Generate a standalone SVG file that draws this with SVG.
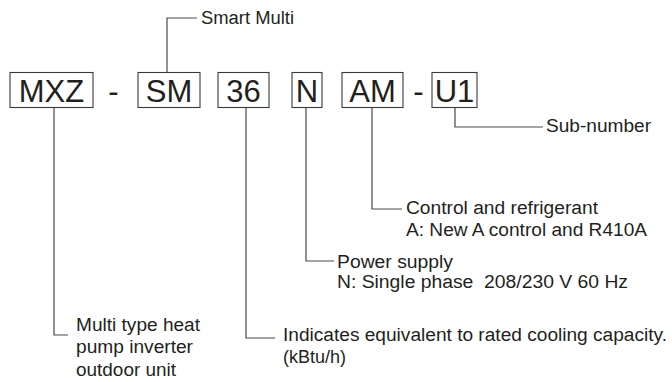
<svg xmlns="http://www.w3.org/2000/svg" width="672" height="382" viewBox="0 0 672 382">
<style>
.box{fill:#fff;stroke:#3a3a3a;stroke-width:1.1}
.code{font-family:"Liberation Sans",Arial,sans-serif;font-size:31px;fill:#231f20;text-anchor:middle}
.lbl{font-family:"Liberation Sans",Arial,sans-serif;font-size:18px;fill:#231f20}
.conn{fill:none;stroke:#4a4a4a;stroke-width:1.2}
</style>
<rect width="672" height="382" fill="#fff"/>
<g id="connectors">
<path class="conn" d="M167,72.5 V18 H197"/>
<path class="conn" d="M455,107.5 V127 H543"/>
<path class="conn" d="M372,107.5 V209 H402"/>
<path class="conn" d="M306,107.5 V261 H334"/>
<path class="conn" d="M246,107.5 V338 H275"/>
<path class="conn" d="M54,107.5 V335 H68"/>
</g>
<g id="node-mxz">
<rect class="box" x="10" y="72.5" width="83" height="35"/>
<text class="code" x="51.5" y="102">MXZ</text>
</g>
<text class="code" x="113.5" y="102">-</text>
<g id="node-sm">
<rect class="box" x="138" y="72.5" width="62" height="35"/>
<text class="code" x="169" y="102">SM</text>
</g>
<g id="node-36">
<rect class="box" x="218" y="72.5" width="51" height="35"/>
<text class="code" x="243.5" y="102">36</text>
</g>
<g id="node-n">
<rect class="box" x="292" y="72.5" width="30" height="35"/>
<text class="code" x="307" y="102">N</text>
</g>
<g id="node-am">
<rect class="box" x="342" y="72.5" width="61" height="35"/>
<text class="code" x="372.5" y="102">AM</text>
</g>
<text class="code" x="418.5" y="102">-</text>
<g id="node-u1">
<rect class="box" x="432" y="72.5" width="45" height="35"/>
<text class="code" x="454.5" y="102">U1</text>
</g>
<g id="label-smart">
<text class="lbl" x="201" y="24" textLength="93" lengthAdjust="spacingAndGlyphs">Smart Multi</text>
</g>
<g id="label-sub">
<text class="lbl" x="546" y="132" textLength="105" lengthAdjust="spacingAndGlyphs">Sub-number</text>
</g>
<g id="label-control">
<text class="lbl" x="406" y="214" textLength="192" lengthAdjust="spacingAndGlyphs">Control and refrigerant</text>
<text class="lbl" x="406" y="236" textLength="241" lengthAdjust="spacingAndGlyphs">A: New A control and R410A</text>
</g>
<g id="label-power">
<text class="lbl" x="337" y="268" textLength="116" lengthAdjust="spacingAndGlyphs">Power supply</text>
<text class="lbl" x="337" y="288" textLength="291" lengthAdjust="spacingAndGlyphs" xml:space="preserve">N: Single phase  208/230 V 60 Hz</text>
</g>
<g id="label-capacity">
<text class="lbl" x="283" y="341" textLength="384" lengthAdjust="spacingAndGlyphs">Indicates equivalent to rated cooling capacity.</text>
<text class="lbl" x="283" y="363">(kBtu/h)</text>
</g>
<g id="label-multi">
<text class="lbl" x="76" y="331" textLength="124" lengthAdjust="spacingAndGlyphs">Multi type heat</text>
<text class="lbl" x="76" y="353" textLength="117" lengthAdjust="spacingAndGlyphs">pump inverter</text>
<text class="lbl" x="76" y="376" textLength="100" lengthAdjust="spacingAndGlyphs">outdoor unit</text>
</g>
</svg>
